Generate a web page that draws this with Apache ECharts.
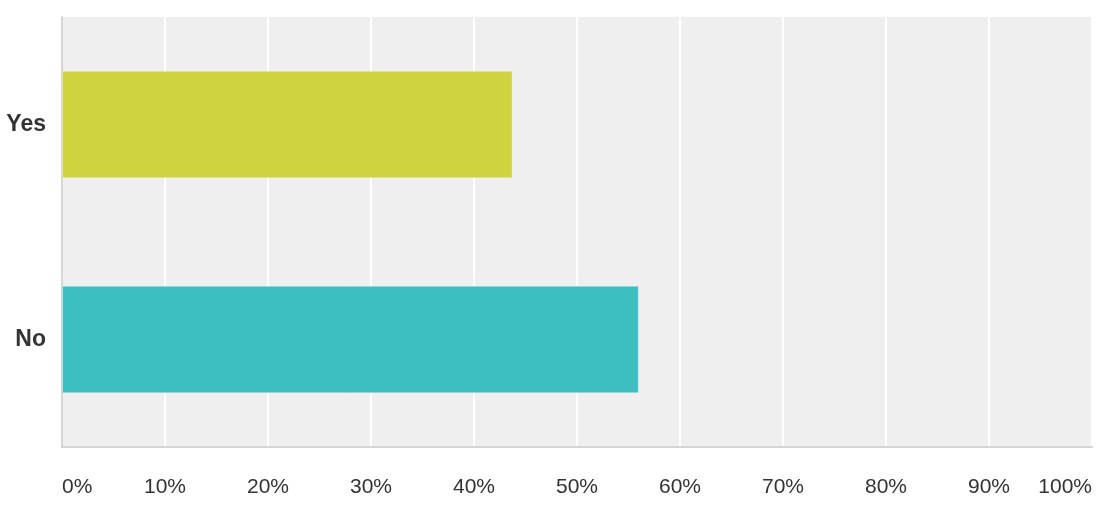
<!DOCTYPE html>
<html>
<head>
<meta charset="utf-8">
<script src="https://cdn.jsdelivr.net/npm/echarts@6/dist/echarts.min.js"></script>
<style>
html,body{margin:0;padding:0;background:#fff;}
#chart{width:1116px;height:526px;}
</style>
</head>
<body>
<div id="chart"></div>
<script>
var categories = ['Yes', 'No'];
var values = [43.75, 56.0];
var barColors = ['#cfd33f', '#3dbec1'];
var xTicks = [0, 10, 20, 30, 40, 50, 60, 70, 80, 90, 100];

var chart = echarts.init(document.getElementById('chart'));
chart.setOption({
  animation: false,
  grid: {
    left: 62, right: 24, top: 17, bottom: 79,
    show: true, backgroundColor: '#efefef', borderWidth: 0
  },
  xAxis: {
    type: 'value', min: xTicks[0], max: xTicks[xTicks.length - 1], interval: 10,
    axisLine: { show: true, lineStyle: { color: '#d6d6d6', width: 2 } },
    axisTick: { show: false },
    splitLine: { show: true, lineStyle: { color: '#ffffff', width: 2 } },
    axisLabel: {
      margin: 30, fontSize: 21, color: '#333333',
      fontFamily: 'Liberation Sans, Arial, sans-serif',
      alignMinLabel: 'left', alignMaxLabel: 'right',
      formatter: function (v) { return v + '%'; }
    }
  },
  yAxis: {
    type: 'category', data: categories, inverse: true,
    axisLine: { show: true, lineStyle: { color: '#d6d6d6', width: 2 } },
    axisTick: { show: false },
    axisLabel: {
      margin: 16, fontSize: 23, fontWeight: 'bold', color: '#333333',
      fontFamily: 'Liberation Sans, Arial, sans-serif',
      padding: [7, 0, 0, 0]
    }
  },
  series: [{
    type: 'bar',
    barWidth: '50%',
    data: values.map(function (v, i) {
      return { value: v, itemStyle: { color: barColors[i], borderColor: 'rgba(255,255,255,0.35)', borderWidth: 1 } };
    })
  }]
});
</script>
</body>
</html>
